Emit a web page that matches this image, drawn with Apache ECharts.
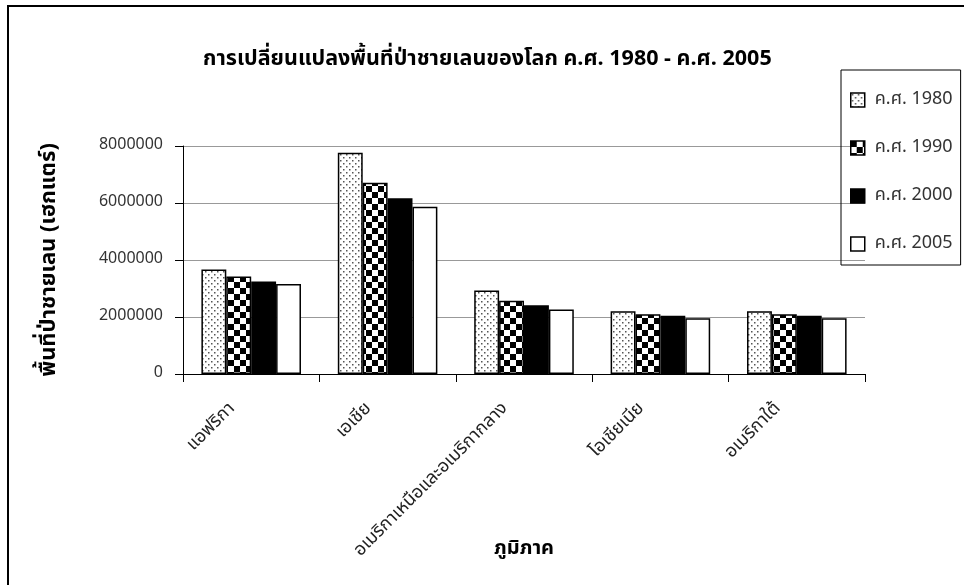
<!DOCTYPE html>
<html>
<head>
<meta charset="utf-8">
<script src="https://cdn.jsdelivr.net/npm/echarts@6/dist/echarts.min.js"></script>
<style>
  html, body { margin: 0; padding: 0; background: #fff; }
</style>
</head>
<body>
<div id="chart" style="width:964px;height:585px;"></div>
<script>
// data
var regions = ["แอฟริกา", "เอเชีย", "อเมริกาเหนือและอเมริกากลาง", "โอเชียเนีย", "อเมริกาใต้"];
var years = ["ค.ศ. 1980", "ค.ศ. 1990", "ค.ศ. 2000", "ค.ศ. 2005"];
var v1980 = [3670000, 7760000, 2930000, 2200000, 2200000];
var v1990 = [3420000, 6710000, 2570000, 2100000, 2100000];
var v2000 = [3250000, 6170000, 2410000, 2040000, 2040000];
var v2005 = [3160000, 5870000, 2260000, 1960000, 1960000];
var yTicks = [0, 2000000, 4000000, 6000000, 8000000];

var thaiFont = "'Noto Sans Thai', 'Noto Sans', 'DejaVu Sans', sans-serif";

// fill patterns like the old excel ones
function dotTile() {
  var c = document.createElement("canvas");
  c.width = 6; c.height = 6;
  var ctx = c.getContext("2d");
  ctx.fillStyle = "#fff";
  ctx.fillRect(0, 0, 6, 6);
  ctx.fillStyle = "#555";
  ctx.fillRect(1, 1, 1.5, 1.5);
  ctx.fillRect(4, 4, 1.5, 1.5);
  return c;
}
function checkTile() {
  var c = document.createElement("canvas");
  c.width = 12; c.height = 12;
  var ctx = c.getContext("2d");
  ctx.fillStyle = "#fff";
  ctx.fillRect(0, 0, 12, 12);
  ctx.fillStyle = "#000";
  ctx.fillRect(0, 0, 6, 6);
  ctx.fillRect(6, 6, 6, 6);
  return c;
}

var fills = [
  { image: dotTile(), repeat: "repeat" },
  { image: checkTile(), repeat: "repeat" },
  "#000",
  "#fff"
];
var values = [v1980, v1990, v2000, v2005];

var series = years.map(function (name, i) {
  return {
    name: name,
    type: "bar",
    barGap: "0%",
    barCategoryGap: "27%",
    itemStyle: {
      color: fills[i],
      borderColor: "#000",
      borderWidth: 1.5
    },
    data: values[i]
  };
});

var chart = echarts.init(document.getElementById("chart"));
chart.setOption({
  animation: false,
  textStyle: { fontFamily: thaiFont },
  title: {
    text: "การเปลี่ยนแปลงพื้นที่ป่าชายเลนของโลก ค.ศ. 1980 - ค.ศ. 2005",
    left: 198,
    top: 45,
    textStyle: { fontSize: 21.5, fontWeight: "bold", color: "#000", fontFamily: thaiFont }
  },
  graphic: [{
    type: "rect",
    shape: { x: 8, y: 6, width: 1200, height: 1000 },
    style: { fill: null, stroke: "#000", lineWidth: 2 },
    silent: true
  }],
  legend: {
    orient: "vertical",
    left: 841,
    top: 70,
    icon: "rect",
    itemWidth: 14,
    itemHeight: 14,
    itemGap: 30,
    padding: [21, 8, 12, 9],
    borderColor: "#000",
    borderWidth: 1,
    itemStyle: { borderColor: "#000", borderWidth: 1.5 },
    textStyle: { fontSize: 18, color: "#333", lineHeight: 18, padding: [0, 0, 0, 5], fontFamily: thaiFont },
    data: years
  },
  grid: { left: 183, right: 99, top: 146, bottom: 211, containLabel: false, outerBoundsMode: "none" },
  xAxis: {
    type: "category",
    data: regions,
    name: "ภูมิภาค",
    nameLocation: "middle",
    nameGap: 166,
    nameMoveOverlap: false,
    nameTextStyle: { fontSize: 20, fontWeight: "bold", color: "#000" },
    axisLine: { lineStyle: { color: "#000", width: 1 } },
    axisTick: { show: true, length: 8, lineStyle: { color: "#000" } },
    axisLabel: { rotate: 45, fontSize: 18, color: "#222", margin: 14, padding: [0, 26, 0, 0] }
  },
  yAxis: {
    type: "value",
    min: yTicks[0],
    max: yTicks[yTicks.length - 1],
    interval: yTicks[1] - yTicks[0],
    name: "พื้นที่ป่าชายเลน (เฮกแตร์)",
    nameLocation: "middle",
    nameRotate: 90,
    nameGap: 121,
    nameMoveOverlap: false,
    nameTextStyle: { fontSize: 22, fontWeight: "bold", color: "#000" },
    axisLine: { show: true, lineStyle: { color: "#000", width: 1 } },
    axisTick: { show: true, length: 8, lineStyle: { color: "#000" } },
    axisLabel: {
      fontSize: 16, color: "#333", margin: 20,
      formatter: function (v) { return String(v); }
    },
    splitLine: { lineStyle: { color: "#999", width: 1 } }
  },
  series: series
});
</script>
</body>
</html>
